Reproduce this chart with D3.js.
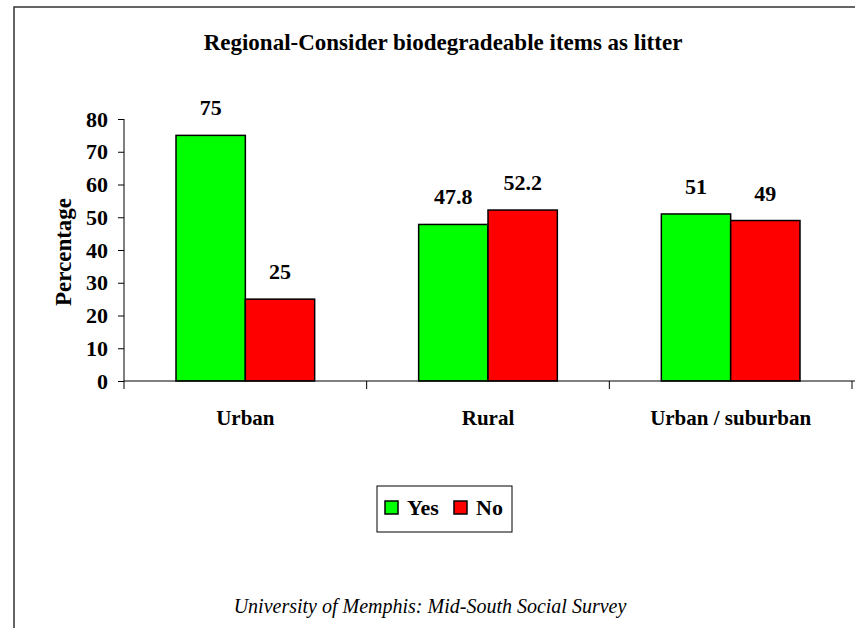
<!DOCTYPE html>
<html>
<head>
<meta charset="utf-8">
<script src="https://cdn.jsdelivr.net/npm/d3@7"></script>
<style>
  body { margin: 0; background: #fff; }
  svg { display: block; }
  svg text { font-family: "Liberation Serif", "Times New Roman", serif; fill: #000; }
</style>
</head>
<body>
<div id="chart"></div>
<script>
// Data
const categories = ["Urban", "Rural", "Urban / suburban"];
const seriesNames = ["Yes", "No"];
const yesValues = [75, 47.8, 51];
const noValues  = [25, 52.2, 49];
const yTicks = [0, 10, 20, 30, 40, 50, 60, 70, 80];
const seriesColors = { "Yes": "#00ff00", "No": "#ff0000" };

const W = 855, H = 628;

const svg = d3.select("#chart").append("svg")
  .attr("width", W)
  .attr("height", H);

// Outer frame (runs off the right and bottom edges)
svg.append("rect")
  .attr("x", 14).attr("y", 7)
  .attr("width", W + 20).attr("height", H + 20)
  .attr("fill", "#fff")
  .attr("stroke", "#333")
  .attr("stroke-width", 1.5);

// Title
svg.append("text")
  .attr("x", 443).attr("y", 50)
  .attr("text-anchor", "middle")
  .style("font-size", "23px")
  .style("font-weight", "bold")
  .text("Regional-Consider biodegradeable items as litter");

// Scales
const y = d3.scaleLinear().domain([0, 80]).range([381, 119]);
const x0 = d3.scaleBand().domain(categories).range([124, 852]).padding(0);
const x1 = d3.scaleBand().domain(seriesNames)
  .range([0, x0.bandwidth()])
  .paddingInner(0)
  .paddingOuter(0.75);

// Y axis
const yAxis = svg.append("g")
  .attr("transform", "translate(124,0)")
  .call(d3.axisLeft(y).tickValues(yTicks).tickSize(6).tickPadding(10));
yAxis.select(".domain").attr("stroke", "#000").attr("d", "M0,119V389");
yAxis.selectAll(".tick line").attr("stroke", "#000");
yAxis.selectAll(".tick text")
  .attr("fill", "#000")
  .style("font-family", "'Liberation Serif', serif")
  .style("font-size", "22px")
  .style("font-weight", "bold");

// Bars
const rows = categories.map((c, i) => ({ cat: c, values: [
  { key: "Yes", value: yesValues[i] },
  { key: "No",  value: noValues[i] }
]}));

const groups = svg.selectAll(".grp")
  .data(rows)
  .enter().append("g")
  .attr("class", "grp")
  .attr("transform", d => `translate(${x0(d.cat)},0)`);

groups.selectAll("rect")
  .data(d => d.values)
  .enter().append("rect")
  .attr("x", d => x1(d.key))
  .attr("y", d => y(d.value))
  .attr("width", x1.bandwidth())
  .attr("height", d => y(0) - y(d.value))
  .attr("fill", d => seriesColors[d.key])
  .attr("stroke", "#000")
  .attr("stroke-width", 1.5);

groups.selectAll(".val")
  .data(d => d.values)
  .enter().append("text")
  .attr("class", "val")
  .attr("x", d => x1(d.key) + x1.bandwidth() / 2)
  .attr("y", d => y(d.value) - 20)
  .attr("text-anchor", "middle")
  .style("font-size", "22px")
  .style("font-weight", "bold")
  .text(d => d.value);

// X axis line and category ticks
svg.append("line")
  .attr("x1", 124).attr("x2", W)
  .attr("y1", y(0)).attr("y2", y(0))
  .attr("stroke", "#000");
const boundaries = categories.map(c => x0(c)).concat([x0.range()[1]]);
svg.selectAll(".xtick")
  .data(boundaries.slice(1))
  .enter().append("line")
  .attr("x1", d => d).attr("x2", d => d)
  .attr("y1", y(0)).attr("y2", y(0) + 8)
  .attr("stroke", "#000");

svg.selectAll(".xlab")
  .data(categories)
  .enter().append("text")
  .attr("x", d => x0(d) + x0.bandwidth() / 2)
  .attr("y", 425)
  .attr("text-anchor", "middle")
  .style("font-size", "21px")
  .style("font-weight", "bold")
  .text(d => d);

// Y axis title
svg.append("text")
  .attr("transform", "translate(71,252) rotate(-90)")
  .attr("text-anchor", "middle")
  .style("font-size", "23px")
  .style("font-weight", "bold")
  .text("Percentage");

// Legend
const legend = svg.append("g");
legend.append("rect")
  .attr("x", 377).attr("y", 486)
  .attr("width", 135).attr("height", 46)
  .attr("fill", "#fff")
  .attr("stroke", "#000")
  .attr("stroke-width", 1);
const legendX = { "Yes": 385, "No": 454 };
seriesNames.forEach(s => {
  legend.append("rect")
    .attr("x", legendX[s]).attr("y", 501)
    .attr("width", 13).attr("height", 13)
    .attr("fill", seriesColors[s])
    .attr("stroke", "#000")
    .attr("stroke-width", 1.5);
  legend.append("text")
    .attr("x", legendX[s] + 22).attr("y", 515)
    .style("font-size", "22px")
    .style("font-weight", "bold")
    .text(s);
});

// Source note
svg.append("text")
  .attr("x", 430).attr("y", 613)
  .attr("text-anchor", "middle")
  .style("font-size", "20px")
  .style("font-style", "italic")
  .text("University of Memphis: Mid-South Social Survey");
</script>
</body>
</html>
